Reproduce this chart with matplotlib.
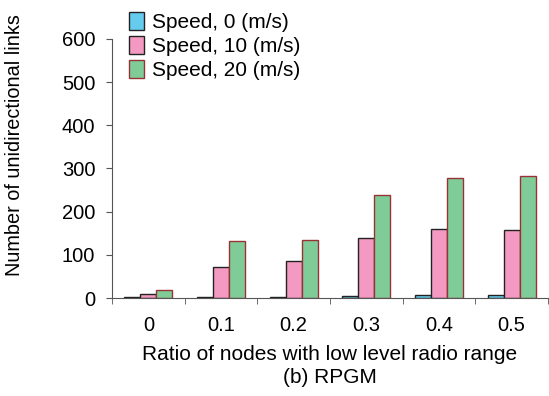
import numpy as np
import matplotlib.pyplot as plt

#
# data
#
ratios = ['0', '0.1', '0.2', '0.3', '0.4', '0.5']
speed0 = [2, 2, 2, 5, 7, 7]
speed10 = [9, 72, 86, 140, 160, 157]
speed20 = [18, 132, 135, 238, 278, 283]
labels = ['Speed, 0 (m/s)', 'Speed, 10 (m/s)', 'Speed, 20 (m/s)']

plt.rcParams['font.family'] = ['Liberation Sans', 'DejaVu Sans']

fig = plt.figure(figsize=(5.49, 3.96), dpi=100)
ax = fig.add_axes([112/549, 1-298/396, 436/549, 259/396])

x = np.arange(len(ratios))
w = 0.22
series = [speed0, speed10, speed20]
faces = ['#66ccee', '#f49ac2', '#80cc99']
edges = ['#222222', '#222222', '#993333']
bars = []
for i, (vals, fc, ec) in enumerate(zip(series, faces, edges)):
  b = ax.bar(x + (i-1)*w, vals, w, color=fc, edgecolor=ec, linewidth=1.0, label=labels[i])
  bars.append(b)

ax.set_xlim(-0.5, len(ratios)-0.5)
ax.set_ylim(0, 600)
ax.set_yticks(range(0, 601, 100))
ax.set_xticks(x)
ax.set_xticklabels(ratios)
ax.set_xticks(np.arange(-0.5, len(ratios), 1.0), minor=True)
ax.tick_params(axis='x', which='major', length=0, pad=13, labelsize=14.5)
ax.tick_params(axis='x', which='minor', length=4, color='#555555')
ax.tick_params(axis='y', length=4, color='#555555', labelsize=14.5, pad=8)
for s in ['top', 'right']:
  ax.spines[s].set_visible(False)
ax.spines['left'].set_color('#555555')
ax.spines['bottom'].set_color('#555555')

ax.set_ylabel('Number of unidirectional links', fontsize=14.3)
ax.yaxis.set_label_coords(-88/436, 0.59)
ax.set_xlabel('Ratio of nodes with low level radio range\n(b) RPGM', fontsize=15, linespacing=1.25, labelpad=7)

fig.legend(handles=bars, loc='upper left', bbox_to_anchor=(116/549, 1.0), frameon=False,
           fontsize=15, handlelength=0.75, handleheight=0.9, handletextpad=0.4,
           labelspacing=0.2, borderaxespad=0.2)

fig.savefig('out.png', dpi=100)
